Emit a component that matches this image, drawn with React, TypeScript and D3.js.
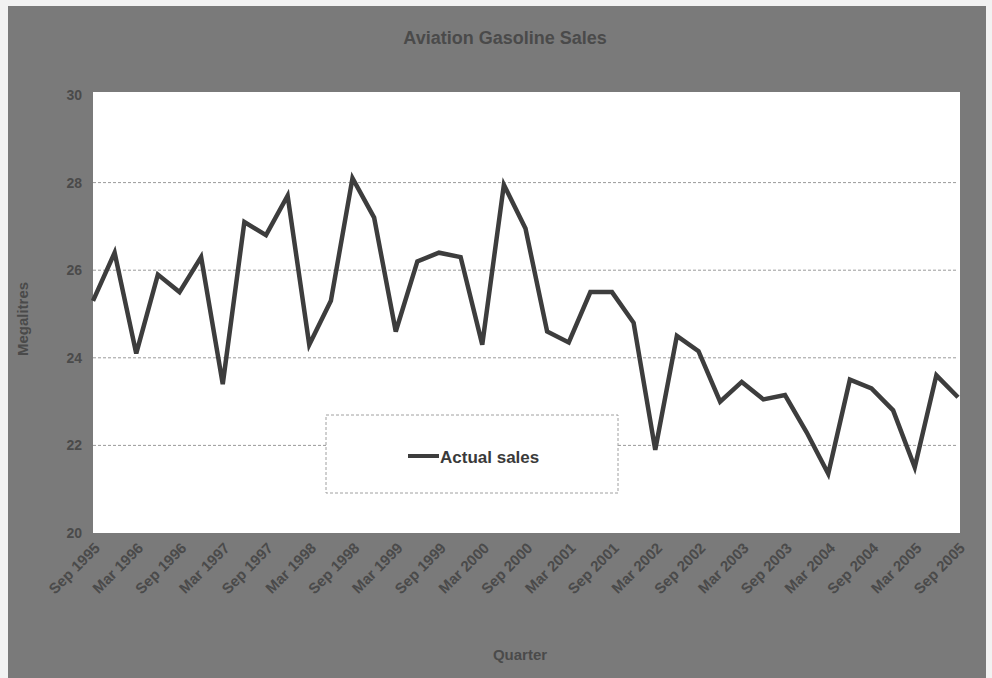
import React from "react";
import * as d3 from "d3";

const quarters: string[] = [
  "Sep 1995","Dec 1995","Mar 1996","Jun 1996","Sep 1996","Dec 1996","Mar 1997","Jun 1997",
  "Sep 1997","Dec 1997","Mar 1998","Jun 1998","Sep 1998","Dec 1998","Mar 1999","Jun 1999",
  "Sep 1999","Dec 1999","Mar 2000","Jun 2000","Sep 2000","Dec 2000","Mar 2001","Jun 2001",
  "Sep 2001","Dec 2001","Mar 2002","Jun 2002","Sep 2002","Dec 2002","Mar 2003","Jun 2003",
  "Sep 2003","Dec 2003","Mar 2004","Jun 2004","Sep 2004","Dec 2004","Mar 2005","Jun 2005",
  "Sep 2005",
];

const actualSales: number[] = [
  25.3, 26.4, 24.1, 25.9, 25.5, 26.3, 23.4, 27.1, 26.8, 27.7,
  24.3, 25.3, 28.1, 27.2, 24.6, 26.2, 26.4, 26.3, 24.3, 27.95,
  26.95, 24.6, 24.35, 25.5, 25.5, 24.8, 21.9, 24.5, 24.15, 23.0,
  23.45, 23.05, 23.15, 22.3, 21.35, 23.5, 23.3, 22.8, 21.5, 23.6,
  23.1,
];

const yTicks: number[] = [20, 22, 24, 26, 28, 30];
const gridTicks: number[] = [22, 24, 26, 28];

const W = 992;
const H = 678;
const plot = { left: 93, right: 958, top: 95, bottom: 533 };

export default function App() {
  const x = d3.scaleLinear().domain([0, quarters.length - 1]).range([plot.left, plot.right]);
  const y = d3.scaleLinear().domain([20, 30]).range([plot.bottom, plot.top]);
  const line = d3
    .line<number>()
    .x((_, i) => x(i))
    .y((d) => y(d));

  const textColor = "#4a4a4a";
  const font = "'Liberation Sans', Arial, sans-serif";

  return (
    <div style={{ position: "absolute", left: 0, top: 0 }}>
      <svg width={W} height={H} style={{ display: "block" }}>
        <rect x={0} y={0} width={W} height={H} fill="#f2f2f2" />
        <rect x={8} y={6} width={978} height={H - 6} fill="#7a7a7a" />
        <rect
          x={plot.left}
          y={plot.top - 3}
          width={plot.right - plot.left + 2}
          height={plot.bottom - plot.top + 3}
          fill="#ffffff"
        />
        {gridTicks.map((t) => (
          <line
            key={t}
            x1={plot.left}
            x2={plot.right}
            y1={y(t)}
            y2={y(t)}
            stroke="#9a9a9a"
            strokeWidth={1}
            strokeDasharray="3 2"
          />
        ))}
        <text
          x={505}
          y={44}
          textAnchor="middle"
          fontFamily={font}
          fontWeight="bold"
          fontSize={18}
          fill={textColor}
        >
          Aviation Gasoline Sales
        </text>
        {yTicks.map((t) => (
          <text
            key={t}
            x={82}
            y={y(t) + 5}
            textAnchor="end"
            fontFamily={font}
            fontWeight="bold"
            fontSize={14}
            fill={textColor}
          >
            {t}
          </text>
        ))}
        <text
          transform={`translate(28, ${(plot.top + plot.bottom) / 2 + 5}) rotate(-90)`}
          textAnchor="middle"
          fontFamily={font}
          fontWeight="bold"
          fontSize={15}
          fill={textColor}
        >
          Megalitres
        </text>
        {quarters.map((q, i) =>
          i % 2 === 0 ? (
            <text
              key={q}
              transform={`translate(${x(i) + 8}, ${plot.bottom + 16}) rotate(-45)`}
              textAnchor="end"
              fontFamily={font}
              fontWeight="bold"
              fontSize={15}
              fill={textColor}
            >
              {q}
            </text>
          ) : null
        )}
        <text
          x={520}
          y={660}
          textAnchor="middle"
          fontFamily={font}
          fontWeight="bold"
          fontSize={15}
          fill={textColor}
        >
          Quarter
        </text>
        <path
          d={line(actualSales) || ""}
          fill="none"
          stroke="#3d3d3d"
          strokeWidth={4.5}
          strokeLinejoin="miter"
        />
        <rect
          x={326}
          y={415}
          width={292}
          height={78}
          fill="#ffffff"
          stroke="#a0a0a0"
          strokeDasharray="3 2"
        />
        <line x1={408} x2={439} y1={456} y2={456} stroke="#3d3d3d" strokeWidth={4} />
        <text
          x={440}
          y={463}
          fontFamily={font}
          fontWeight="bold"
          fontSize={17}
          fill="#3a3a3a"
        >
          Actual sales
        </text>
      </svg>
    </div>
  );
}
